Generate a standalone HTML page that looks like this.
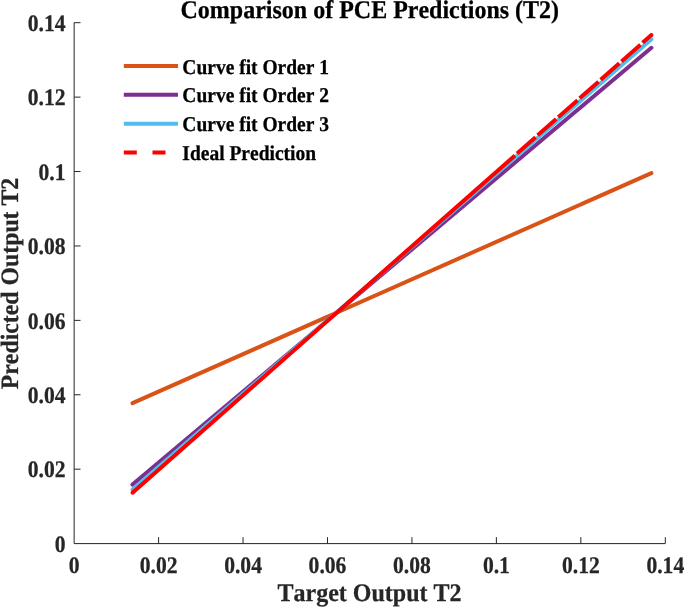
<!DOCTYPE html>
<html><head><meta charset="utf-8"><title>Comparison of PCE Predictions (T2)</title>
<style>html,body{margin:0;padding:0;background:#fff}body{width:685px;height:608px;overflow:hidden}</style></head>
<body>
<svg width="685" height="608" viewBox="0 0 685 608" style="display:block;will-change:transform;font-kerning:none;text-rendering:geometricPrecision;font-family:'Liberation Serif',serif;font-weight:bold">
<defs><filter id="soft" x="0" y="0" width="685" height="608" filterUnits="userSpaceOnUse"><feGaussianBlur stdDeviation="0.4"/></filter></defs>
<rect width="685" height="608" fill="#fff"/>
<g filter="url(#soft)">
<g stroke="#262626" stroke-width="1" fill="none" shape-rendering="auto">
<path d="M74.13 22.7 V543.6 H665.3"/>
<path d="M158.58 543.6 v-6.4"/>
<path d="M74.13 469.19 h6.4"/>
<path d="M243.04 543.6 v-6.4"/>
<path d="M74.13 394.77 h6.4"/>
<path d="M327.49 543.6 v-6.4"/>
<path d="M74.13 320.36 h6.4"/>
<path d="M411.94 543.6 v-6.4"/>
<path d="M74.13 245.94 h6.4"/>
<path d="M496.39 543.6 v-6.4"/>
<path d="M74.13 171.53 h6.4"/>
<path d="M580.85 543.6 v-6.4"/>
<path d="M74.13 97.11 h6.4"/>
<path d="M665.30 543.6 v-6.4"/>
<path d="M74.13 22.70 h6.4"/>
</g>
<g fill="#262626" stroke="#262626" stroke-width="0.25" font-size="21.6">
<text transform="translate(74.13 572.50) scale(1 1.1)" text-anchor="middle">0</text>
<text transform="translate(65.50 551.90) scale(1 1.1)" text-anchor="end">0</text>
<text transform="translate(158.58 572.50) scale(1 1.1)" text-anchor="middle">0.02</text>
<text transform="translate(65.50 477.49) scale(1 1.1)" text-anchor="end">0.02</text>
<text transform="translate(243.04 572.50) scale(1 1.1)" text-anchor="middle">0.04</text>
<text transform="translate(65.50 403.07) scale(1 1.1)" text-anchor="end">0.04</text>
<text transform="translate(327.49 572.50) scale(1 1.1)" text-anchor="middle">0.06</text>
<text transform="translate(65.50 328.66) scale(1 1.1)" text-anchor="end">0.06</text>
<text transform="translate(411.94 572.50) scale(1 1.1)" text-anchor="middle">0.08</text>
<text transform="translate(65.50 254.24) scale(1 1.1)" text-anchor="end">0.08</text>
<text transform="translate(496.39 572.50) scale(1 1.1)" text-anchor="middle">0.1</text>
<text transform="translate(65.50 179.83) scale(1 1.1)" text-anchor="end">0.1</text>
<text transform="translate(580.85 572.50) scale(1 1.1)" text-anchor="middle">0.12</text>
<text transform="translate(65.50 105.41) scale(1 1.1)" text-anchor="end">0.12</text>
<text transform="translate(665.30 572.50) scale(1 1.1)" text-anchor="middle">0.14</text>
<text transform="translate(65.50 31.00) scale(1 1.1)" text-anchor="end">0.14</text>
</g>
<text transform="translate(369.80 17.60) scale(1 1.06)" font-size="24" text-anchor="middle" fill="#000" stroke="#000" stroke-width="0.25">Comparison of PCE Predictions (T2)</text>
<text transform="translate(369.50 600.80) scale(1 1.05)" font-size="24" text-anchor="middle" fill="#262626" stroke="#262626" stroke-width="0.25">Target Output T2</text>
<text transform="translate(17.70 283.50) rotate(-90) scale(1 1.05)" font-size="23.8" text-anchor="middle" fill="#262626" stroke="#262626" stroke-width="0.25">Predicted Output T2</text>
<g fill="none" stroke-width="4" stroke-linecap="round">
<path d="M132.5 403.2 L651.4 173.1" stroke="#D95319"/>
<path d="M132.5 484.6 L651.4 47.8" stroke="#7E2F8E"/>
<path d="M132.5 489.5 L651.4 39.3" stroke="#4DBEEE"/>
</g>
<path d="M651.4 35.0 L132.5 492.8" fill="none" stroke="#FF0000" stroke-width="4" stroke-dasharray="11.80 2.80 25.34 2.80 24.94 2.80 25.20 2.80 25.74 2.80 24.67 2.80 24.67 2.80 2000.00 0.00"/>
<circle cx="651.4" cy="35.0" r="2.0" fill="#FF0000"/><circle cx="132.5" cy="492.8" r="2.0" fill="#FF0000"/>
<g fill="none" stroke-width="4">
<path d="M123.8 66.0 H178.0" stroke="#D95319"/>
<path d="M123.8 94.8 H178.0" stroke="#7E2F8E"/>
<path d="M123.8 123.7 H178.0" stroke="#4DBEEE"/>
<path d="M123.8 152.6 H178.0" stroke="#FF0000" stroke-dasharray="13 15.7"/>
</g>
<g font-size="19.5" fill="#000" stroke="#000" stroke-width="0.25">
<text transform="translate(182.30 73.80) scale(1 1.08)">Curve fit Order 1</text>
<text transform="translate(182.30 102.40) scale(1 1.08)">Curve fit Order 2</text>
<text transform="translate(182.30 131.00) scale(1 1.08)">Curve fit Order 3</text>
<text transform="translate(182.30 159.60) scale(1 1.08)">Ideal Prediction</text>
</g>
</g>
</svg>
</body></html>
